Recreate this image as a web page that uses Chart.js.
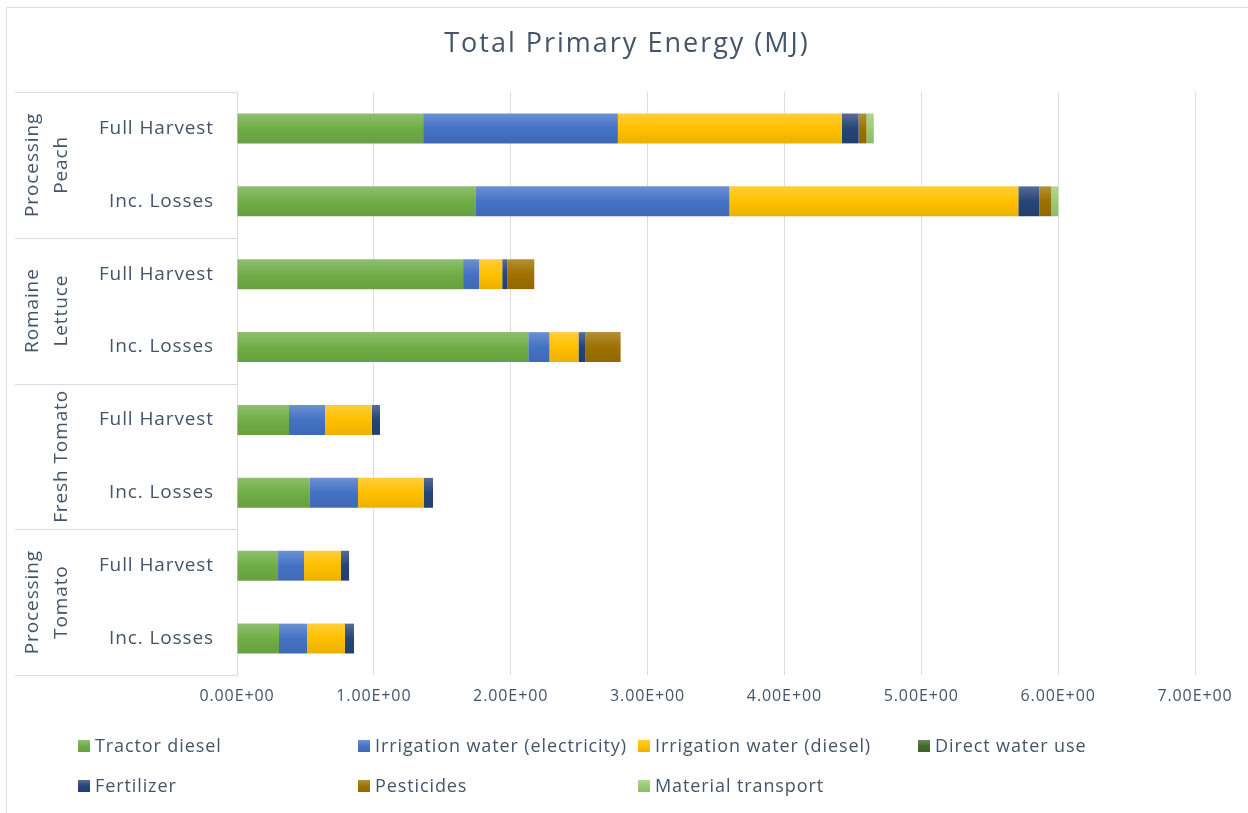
<!DOCTYPE html>
<html>
<head>
<meta charset="utf-8">
<script src="https://cdn.jsdelivr.net/npm/chart.js@4.4.1/dist/chart.umd.min.js"></script>
<style>
  html, body { margin: 0; padding: 0; background: #ffffff; }
  #wrap { width: 1248px; height: 813px; position: relative; }
</style>
</head>
<body>
<div id="wrap"><canvas id="c" width="1248" height="813"></canvas></div>
<script>
// ---- data ----
const groups = ["Processing Peach", "Romaine Lettuce", "Fresh Tomato", "Processing Tomato"];
const groupLines = [["Processing", "Peach"], ["Romaine", "Lettuce"], ["Fresh Tomato"], ["Processing", "Tomato"]];
const scenarios = ["Full Harvest", "Inc. Losses"];
const rowLabels = ["Full Harvest", "Inc. Losses", "Full Harvest", "Inc. Losses", "Full Harvest", "Inc. Losses", "Full Harvest", "Inc. Losses"];
const seriesNames = ["Tractor diesel", "Irrigation water (electricity)", "Irrigation water (diesel)", "Direct water use", "Fertilizer", "Pesticides", "Material transport"];
const tractorDiesel   = [1.360, 1.746, 1.652, 2.128, 0.380, 0.533, 0.300, 0.307];
const irrigationElec  = [1.423, 1.852, 0.117, 0.155, 0.263, 0.351, 0.190, 0.205];
const irrigationDiesel= [1.636, 2.111, 0.169, 0.212, 0.343, 0.482, 0.270, 0.277];
const directWater     = [0, 0, 0, 0, 0, 0, 0, 0];
const fertilizer      = [0.123, 0.154, 0.036, 0.052, 0.059, 0.066, 0.059, 0.066];
const pesticides      = [0.058, 0.087, 0.198, 0.256, 0, 0, 0, 0];
const materialTransport=[0.053, 0.051, 0, 0, 0, 0, 0, 0];
const xTicks = [0, 1, 2, 3, 4, 5, 6, 7];
const chartTitle = "Total Primary Energy (MJ)";

// ---- styling ----
const seriesColors = ["#70AD47", "#4472C4", "#FFC000", "#43682B", "#264478", "#9E7100", "#9BCB74"];
const textColor = "#44546A";
const gridColor = "#DADDE2";
const fontFamily = "'Open Sans', 'Noto Sans', sans-serif";

function shade(hex, amt) {
  const n = parseInt(hex.slice(1), 16);
  let r = (n >> 16) & 255, g = (n >> 8) & 255, b = n & 255;
  if (amt >= 0) { r += (255 - r) * amt; g += (255 - g) * amt; b += (255 - b) * amt; }
  else { r *= (1 + amt); g *= (1 + amt); b *= (1 + amt); }
  return `rgb(${Math.round(r)},${Math.round(g)},${Math.round(b)})`;
}

const barPct = 0.41;
function gradFill(base) {
  return function (c) {
    const chart = c.chart;
    const area = chart.chartArea;
    const ys = chart.scales && chart.scales.y;
    if (!area || !ys || c.dataIndex == null) return base;
    const cy = ys.getPixelForValue(c.dataIndex);
    if (!isFinite(cy)) return base;
    const step = (area.bottom - area.top) / rowLabels.length;
    const half = step * barPct / 2;
    const g = chart.ctx.createLinearGradient(0, cy - half, 0, cy + half);
    g.addColorStop(0, shade(base, 0.22));
    g.addColorStop(0.5, base);
    g.addColorStop(1, shade(base, -0.08));
    return g;
  };
}

const seriesData = [tractorDiesel, irrigationElec, irrigationDiesel, directWater, fertilizer, pesticides, materialTransport];
const datasets = seriesNames.map((name, i) => ({
  label: name,
  data: seriesData[i],
  backgroundColor: gradFill(seriesColors[i]),
  legendColor: seriesColors[i],
  borderWidth: 0,
  barPercentage: 1.0,
  categoryPercentage: barPct
}));

// ---- plugins ----
const decorPlugin = {
  id: 'decor',
  beforeUpdate(chart) { chart.ctx.letterSpacing = '0.9px'; },
  beforeDraw(chart) {
    const ctx = chart.ctx;
    ctx.letterSpacing = '0.9px';
    ctx.save();
    ctx.fillStyle = '#ffffff';
    ctx.fillRect(0, 0, chart.width, chart.height);
    ctx.strokeStyle = gridColor;
    ctx.lineWidth = 1;
    ctx.beginPath();
    ctx.moveTo(6.5, chart.height);
    ctx.lineTo(6.5, 7.5);
    ctx.lineTo(chart.width, 7.5);
    ctx.stroke();
    ctx.restore();
  },
  afterDraw(chart) {
    const ctx = chart.ctx;
    const ys = chart.scales.y;
    const area = chart.chartArea;
    if (!area || !ys) return;
    ctx.save();
    // title
    ctx.fillStyle = textColor;
    ctx.letterSpacing = '2px';
    ctx.font = `27px ${fontFamily}`;
    ctx.textAlign = 'center';
    ctx.textBaseline = 'middle';
    ctx.fillText(chartTitle, 627, 44);
    ctx.letterSpacing = '0.9px';
    // group separators
    ctx.strokeStyle = gridColor;
    ctx.lineWidth = 1;
    const bounds = [area.top];
    for (let gi = 1; gi < groups.length; gi++) {
      const a = ys.getPixelForValue(gi * 2 - 1), b = ys.getPixelForValue(gi * 2);
      bounds.push((a + b) / 2);
    }
    bounds.push(area.bottom);
    ctx.beginPath();
    bounds.forEach(y => {
      const yy = Math.round(y) + 0.5;
      ctx.moveTo(15, yy); ctx.lineTo(area.left, yy);
    });
    ctx.stroke();
    // group labels (rotated)
    ctx.fillStyle = textColor;
    ctx.font = `19px ${fontFamily}`;
    groupLines.forEach((lines, gi) => {
      const cy = (bounds[gi] + bounds[gi + 1]) / 2;
      const xs = lines.length === 2 ? [33, 62] : [62];
      lines.forEach((t, li) => {
        ctx.save();
        ctx.translate(xs[li], cy);
        ctx.rotate(-Math.PI / 2);
        ctx.fillText(t, 0, 0);
        ctx.restore();
      });
    });
    // legend (custom grid layout)
    ctx.font = `18px ${fontFamily}`;
    ctx.textAlign = 'left';
    const cols = [78, 358, 638, 918];
    const rows = [746, 786];
    chart.data.datasets.forEach((ds, i) => {
      const x = cols[i % 4], y = rows[Math.floor(i / 4)];
      const base = ds.legendColor;
      const g = ctx.createLinearGradient(0, y - 6, 0, y + 6);
      g.addColorStop(0, shade(base, 0.22));
      g.addColorStop(0.5, base);
      g.addColorStop(1, shade(base, -0.08));
      ctx.fillStyle = g;
      ctx.fillRect(x, y - 6, 12, 12);
      ctx.fillStyle = textColor;
      ctx.fillText(ds.label, x + 17, y + 1);
    });
    ctx.restore();
  }
};

const chart = new Chart(document.getElementById('c'), {
  type: 'bar',
  data: { labels: rowLabels, datasets },
  plugins: [decorPlugin],
  options: {
    indexAxis: 'y',
    responsive: false,
    animation: false,
    devicePixelRatio: 1,
    layout: { padding: { left: 8, right: 53, top: 92, bottom: 8 } },
    plugins: {
      legend: { display: false },
      tooltip: { enabled: false },
      title: { display: false }
    },
    scales: {
      x: {
        stacked: true,
        min: 0,
        max: 7,
        afterBuildTicks(scale) { scale.ticks = xTicks.map(v => ({ value: v })); },
        ticks: {
          color: textColor,
          font: { family: fontFamily, size: 16 },
          padding: 12,
          maxRotation: 0,
          callback: v => Number(v).toExponential(2).toUpperCase().replace(/E\+(\d)$/, 'E+0$1').replace(/E-(\d)$/, 'E-0$1')
        },
        grid: { color: gridColor, drawTicks: false, lineWidth: 1 },
        border: { display: false },
        afterFit(scale) { scale.height = 130; }
      },
      y: {
        stacked: true,
        ticks: {
          color: textColor,
          font: { family: fontFamily, size: 19 },
          padding: 23
        },
        grid: { display: false, drawTicks: false },
        border: { display: true, color: gridColor },
        afterFit(scale) { scale.width = 229; }
      }
    }
  }
});
chart.update();
</script>
</body>
</html>
